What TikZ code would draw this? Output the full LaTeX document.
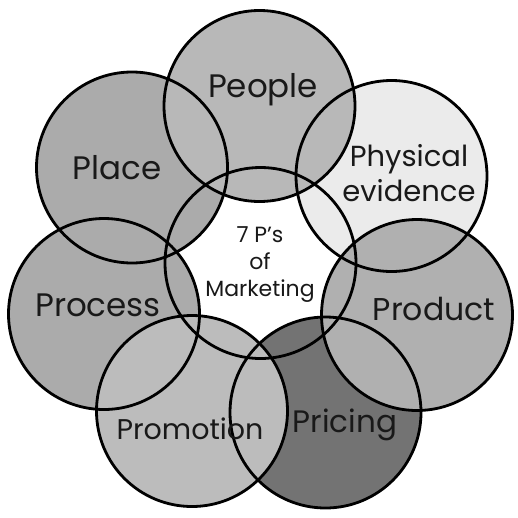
\documentclass[tikz,border=0pt]{standalone}
\usepackage{fontspec}
\setmainfont{Poppins}
\definecolor{cPeople}{HTML}{B8B8B8}
\definecolor{cPlace}{HTML}{ABABAB}
\definecolor{cProcess}{HTML}{ABABAB}
\definecolor{cProduct}{HTML}{B0B0B0}
\definecolor{cPromotion}{HTML}{BCBCBC}
\definecolor{cPricing}{HTML}{737373}
\definecolor{cPhysical}{HTML}{EBEBEB}
\tikzset{
  petal/.style={circle, minimum size=191pt, inner sep=0pt, draw=none},
  rim/.style={draw=black, line width=2.8pt},
  biglabel/.style={font=\fontsize{32.5}{34}\selectfont, text=black!90, align=center, inner sep=0pt},
  midlabel/.style={font=\fontsize{29}{35}\selectfont, text=black!90, align=center, inner sep=0pt},
  smalllabel/.style={font=\fontsize{22}{27}\selectfont, text=black!90, align=center, inner sep=0pt}
}
\begin{document}
\begin{tikzpicture}[x=1pt,y=-1pt]
\useasboundingbox[fill=white] (0,0) rectangle (518,517);
% fills, bottom to top
\node[petal, fill=white]      (core)      at (260.5,263) {};
\node[petal, fill=cPhysical]  (physical)  at (391.5,176) {};
\node[petal, fill=cPricing]   (pricing)   at (325.5,412.5) {};
\node[petal, fill=cPlace]     (place)     at (132,167.5) {};
\node[petal, fill=cProcess]   (process)   at (104,314) {};
\node[petal, fill=cPromotion] (promotion) at (192,411) {};
\node[petal, fill=cProduct]   (product)   at (417,315) {};
\node[petal, fill=cPeople]    (people)    at (259.5,106) {};
% outlines
\foreach \n in {core,physical,pricing,place,process,promotion,product,people}
  \draw[rim] (\n.center) circle (95.5pt);
% labels
\node[biglabel]   (tPeople)    at (263,90)  {People};
\node[biglabel]   (tPlace)     at (117,168) {Place};
\node[midlabel]   (tPhysical)  at (409,173) {Physical\\evidence};
\node[biglabel]   (tProcess)   at (98,305)  {Process};
\node[biglabel, font=\fontsize{31.5}{34}\selectfont] (tProduct) at (434,309) {Product};
\node[biglabel, font=\fontsize{31}{34}\selectfont]   (tPricing) at (345,425) {Pricing};
\node[midlabel, font=\fontsize{28.5}{34}\selectfont] (tPromotion) at (190,429) {Promotion};
\node[smalllabel] (tCore)      at (260,265) {7 P's\\of\\Marketing};
\end{tikzpicture}
\end{document}
